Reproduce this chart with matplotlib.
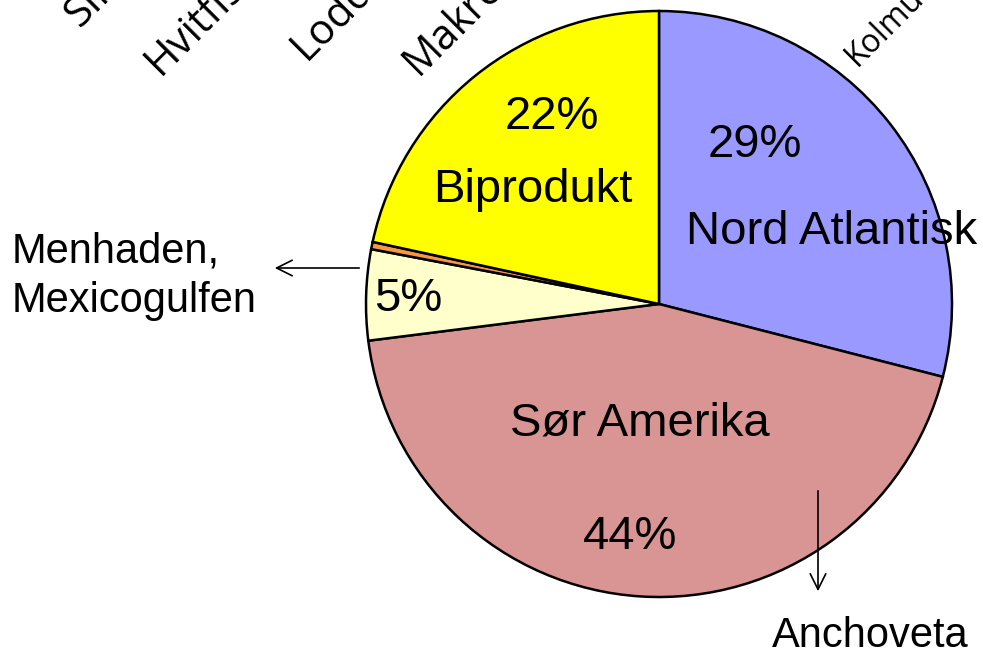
import matplotlib
matplotlib.use("Agg")
import matplotlib.pyplot as plt

labels = ["Nord Atlantisk", "Sør Amerika", "Menhaden, Mexicogulfen", "Annet", "Biprodukt"]
values = [29.0, 44.0, 5.0, 0.4, 21.6]
colors = ["#9999FF", "#D99594", "#FFFFCC", "#F79646", "#FFFF00"]
top_labels = ["Sild", "Hvitfisk", "Lodde", "Makrell", "Kolmule"]

W, H = 983, 656
fig = plt.figure(figsize=(W / 100, H / 100), dpi=100)
ax = fig.add_axes([0, 0, 1, 1])

cx, cy, r = 659, H - 304, 293
ax.pie(values, colors=colors, startangle=90, counterclock=False,
       center=(cx, cy), radius=r, frame=True,
       wedgeprops=dict(edgecolor="black", linewidth=1.8))
ax.set_xlim(0, W)
ax.set_ylim(0, H)
ax.set_aspect("equal")
ax.axis("off")

fam = ["Liberation Sans", "DejaVu Sans"]
def t(x, y, s, size=34, **kw):
    ax.text(x, H - y, s, fontsize=size, family=fam, ha="center", va="center", **kw)

t(755, 145, "29%")
t(832, 232, "Nord Atlantisk")
t(552, 117, "22%")
t(533, 190, "Biprodukt")
t(408, 299, "5%")
t(640, 424, "Sør Amerika")
t(630, 537, "44%")
ax.text(12, H - 276, "Menhaden,\nMexicogulfen", fontsize=30, family=fam,
        ha="left", va="center", linespacing=1.3)
ax.text(870, H - 636, "Anchoveta", fontsize=30, family=fam, ha="center", va="center")

ax.annotate("", xy=(272, H - 268), xytext=(362, H - 268),
            arrowprops=dict(arrowstyle="->", color="black", lw=1.2, mutation_scale=28))
ax.annotate("", xy=(818, H - 594), xytext=(818, H - 488),
            arrowprops=dict(arrowstyle="->", color="black", lw=1.2, mutation_scale=28))

ofam = ["Open Sans", "DejaVu Sans"]
pos = [(80, 28, 30), (160, 76, 30), (306, 61, 30), (418, 76, 30), (857, 67, 23)]
for lab, (x, y, s) in zip(top_labels, pos):
    ax.text(x, H - y, lab, fontsize=s, family=ofam, rotation=45,
            rotation_mode="anchor", ha="left", va="baseline", clip_on=False)

fig.savefig("out.png", dpi=100)
